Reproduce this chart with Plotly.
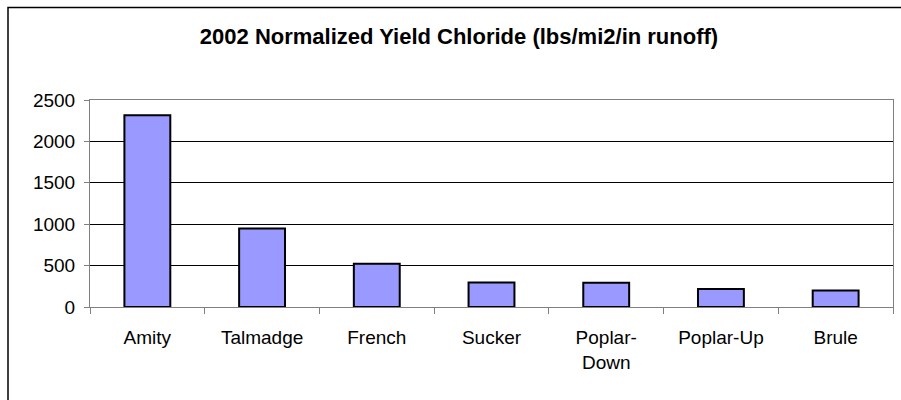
import plotly.graph_objects as go

categories = ["Amity", "Talmadge", "French", "Sucker", "Poplar-<br>Down", "Poplar-Up", "Brule"]
values = [2315, 947, 522, 296, 294, 218, 199]
y_ticks = [0, 500, 1000, 1500, 2000, 2500]
title_text = "2002 Normalized Yield Chloride (lbs/mi2/in runoff)"

fig = go.Figure()
fig.add_trace(go.Bar(
    x=categories, y=values,
    marker=dict(color="#9999FF", line=dict(color="#000000", width=2)),
    width=0.4,
))

L, R, T, B = 90, 8, 100, 93
W, H = 901, 400
pw, ph = W - L - R, H - T - B

fig.update_layout(
    width=W, height=H,
    margin=dict(l=L, r=R, t=T, b=B, pad=0),
    paper_bgcolor="white", plot_bgcolor="white",
    showlegend=False,
    font=dict(family="Liberation Sans, Arial, sans-serif", size=19, color="black"),
    title=dict(text="<b>" + title_text + "</b>", x=(459 - L) / pw, xref="paper", xanchor="center",
               y=1 - 36 / H, yanchor="middle",
               font=dict(size=22, family="Liberation Sans, Arial, sans-serif", color="black")),
    xaxis=dict(
        showline=True, linecolor="#808080", linewidth=1, mirror=True,
        ticks="outside", tickson="boundaries", ticklen=6, tickcolor="#808080",
        showgrid=False, ticklabelstandoff=13,
    ),
    yaxis=dict(
        range=[0, 2500], tickvals=y_ticks,
        showline=True, linecolor="#808080", linewidth=1, mirror=True,
        ticks="outside", ticklen=5, tickcolor="#808080",
        showgrid=True, gridcolor="#000000", gridwidth=1,
        zeroline=False, ticklabelstandoff=5,
    ),
    shapes=[dict(
        type="rect", xref="paper", yref="paper",
        x0=(8 - L) / pw, x1=(910 - L) / pw,
        y0=-(410 - (T + ph)) / ph, y1=((T + ph) - 7.5) / ph,
        line=dict(color="#000000", width=1.5), fillcolor="rgba(0,0,0,0)", layer="below",
    )],
)

fig.write_html("out.html", config={"displayModeBar": False},
               post_script="document.body.style.margin='0';")
